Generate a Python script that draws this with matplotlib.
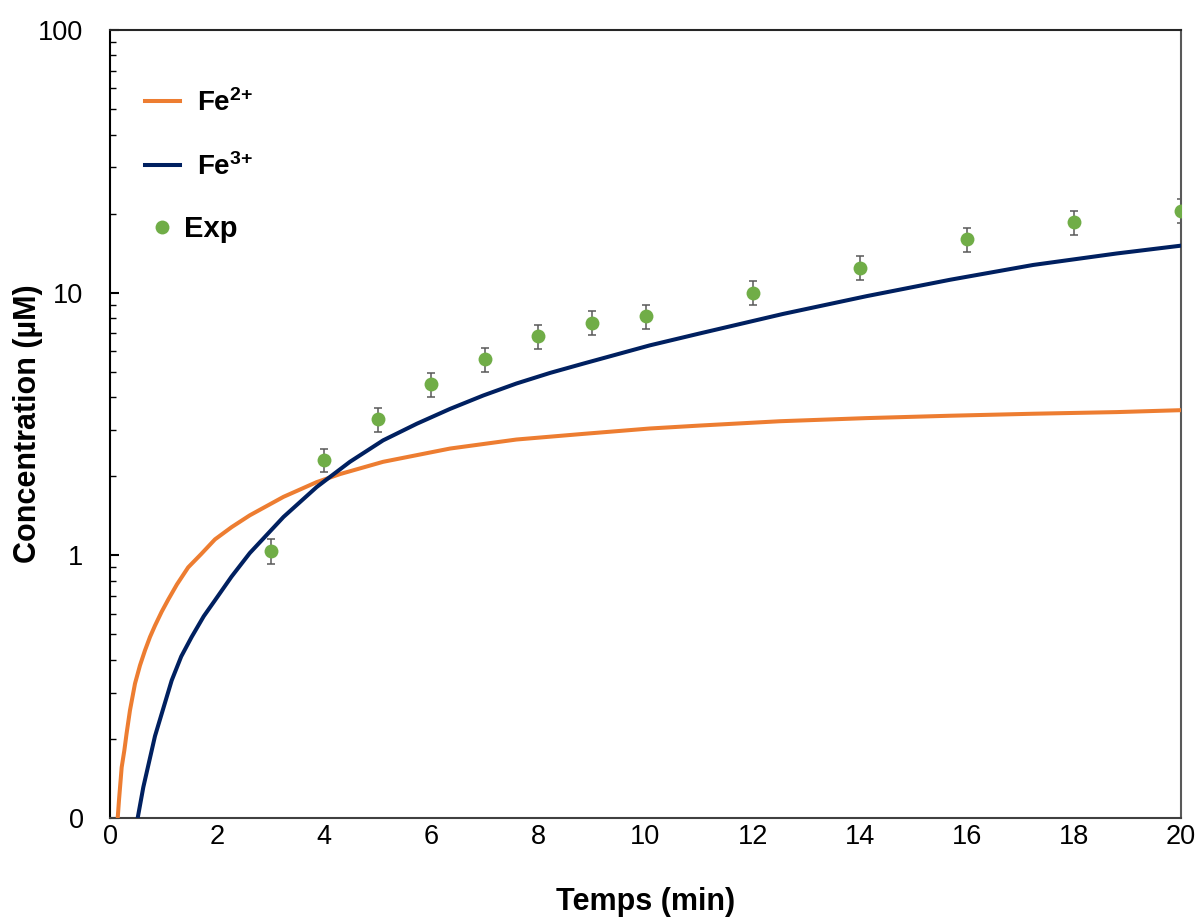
import matplotlib
matplotlib.use("Agg")
from matplotlib import pyplot as plt
from matplotlib import ticker

plt.rcParams['font.family'] = ['Liberation Sans', 'DejaVu Sans']
plt.rcParams['mathtext.fontset'] = 'custom'
plt.rcParams['mathtext.rm'] = 'Liberation Sans:bold'
plt.rcParams['mathtext.bf'] = 'Liberation Sans:bold'
plt.rcParams['mathtext.default'] = 'bf'

# model curves
fe2_t = [0.144, 0.168, 0.218, 0.268, 0.31, 0.373, 0.467, 0.56, 0.654, 0.747, 0.84,
         0.965, 1.09, 1.25, 1.46, 1.7, 1.96, 2.27, 2.61, 3.24, 3.86, 4.30, 5.10, 6.35,
         7.59, 8.84, 10.08, 11.02, 12.51, 14.13, 15.69, 17.24, 18.8, 20.0]
fe2_c = [0.1, 0.117, 0.156, 0.181, 0.21, 0.257, 0.325, 0.381, 0.435, 0.489, 0.54,
         0.61, 0.68, 0.775, 0.90, 1.01, 1.15, 1.28, 1.42, 1.67, 1.90, 2.04, 2.27, 2.55,
         2.76, 2.90, 3.04, 3.12, 3.24, 3.33, 3.40, 3.46, 3.51, 3.57]

fe3_t = [0.517, 0.622, 0.84, 1.152, 1.33, 1.525, 1.75, 1.96, 2.27, 2.61, 3.24, 3.86,
         4.48, 5.10, 5.73, 6.35, 6.97, 7.59, 8.22, 8.84, 10.08, 11.02, 12.57, 14.13,
         15.69, 17.24, 18.8, 20.0]
fe3_c = [0.1, 0.131, 0.205, 0.334, 0.412, 0.489, 0.586, 0.674, 0.83, 1.02, 1.40, 1.82,
         2.27, 2.74, 3.17, 3.61, 4.06, 4.51, 4.95, 5.37, 6.30, 7.0, 8.3, 9.7,
         11.2, 12.75, 14.1, 15.1]

# experimental points
exp_t = [3, 4, 5, 6, 7, 8, 9, 10, 12, 14, 16, 18, 20]
exp_c = [1.04, 2.31, 3.29, 4.48, 5.57, 6.82, 7.69, 8.13, 10.0, 12.45, 15.96, 18.5, 20.5]
exp_err = [0.11, 0.24, 0.35, 0.47, 0.58, 0.72, 0.81, 0.85, 1.05, 1.3, 1.7, 1.95, 2.15]

x_ticks = [0, 2, 4, 6, 8, 10, 12, 14, 16, 18, 20]
y_ticks = [0.1, 1, 10, 100]
y_labels = ['0', '1', '10', '100']

fig = plt.figure(figsize=(12.01, 9.18), dpi=100)
ax = fig.add_axes([110/1201, 100/918, 1071/1201, 788/918])

l2, = ax.plot(fe2_t, fe2_c, color='#ED7D31', lw=2.9, zorder=3)
l3, = ax.plot(fe3_t, fe3_c, color='#002060', lw=2.9, zorder=3)
eb = ax.errorbar(exp_t, exp_c, yerr=exp_err, fmt='o', color='#70AD47', ms=10, mec='none',
                 ecolor='#595959', elinewidth=1.1, capsize=3, capthick=1.1, zorder=4)

ax.set_yscale('log')
ax.set_xlim(0, 20)
ax.set_ylim(0.1, 100)
ax.yaxis.set_major_locator(ticker.FixedLocator(y_ticks))
ax.yaxis.set_major_formatter(ticker.FixedFormatter(y_labels))
ax.yaxis.set_minor_locator(ticker.LogLocator(base=10, subs=range(2, 10)))
ax.yaxis.set_minor_formatter(ticker.NullFormatter())
ax.set_xticks(x_ticks)

ax.tick_params(axis='y', which='major', direction='in', length=6.5, width=1.5,
               labelsize=19.5, pad=19)
ax.tick_params(axis='y', which='minor', direction='in', length=4.5, width=1.0)
ax.tick_params(axis='x', length=0, labelsize=19.5, pad=4)

for side, col in [('left', '#000000'), ('bottom', '#404040'),
                  ('top', '#262626'), ('right', '#595959')]:
    ax.spines[side].set_color(col)
    ax.spines[side].set_linewidth(1.5)

ax.set_xlabel('Temps (min)', fontsize=22, fontweight='bold', labelpad=27)
ax.set_ylabel('Concentration (µM)', fontsize=22, fontweight='bold', labelpad=-3)

# legend: the two model lines, then the experimental marker a bit tighter
leg1 = ax.legend([l2, l3], ['Fe$^{2{+}}$', 'Fe$^{3{+}}$'], loc='upper left',
                 bbox_to_anchor=(0.0327, 0.925), frameon=False,
                 prop={'size': 20, 'weight': 'bold'}, borderpad=0, borderaxespad=0,
                 handlelength=1.26, handletextpad=0.6, labelspacing=1.3)
ax.add_artist(leg1)
ax.legend([eb[0]], ['Exp'], loc='upper left', bbox_to_anchor=(0.0327, 0.765),
          frameon=False, prop={'size': 21, 'weight': 'bold'}, borderpad=0,
          borderaxespad=0, handlelength=1.17, handletextpad=0.15)

plt.savefig('out.png', dpi=100)
